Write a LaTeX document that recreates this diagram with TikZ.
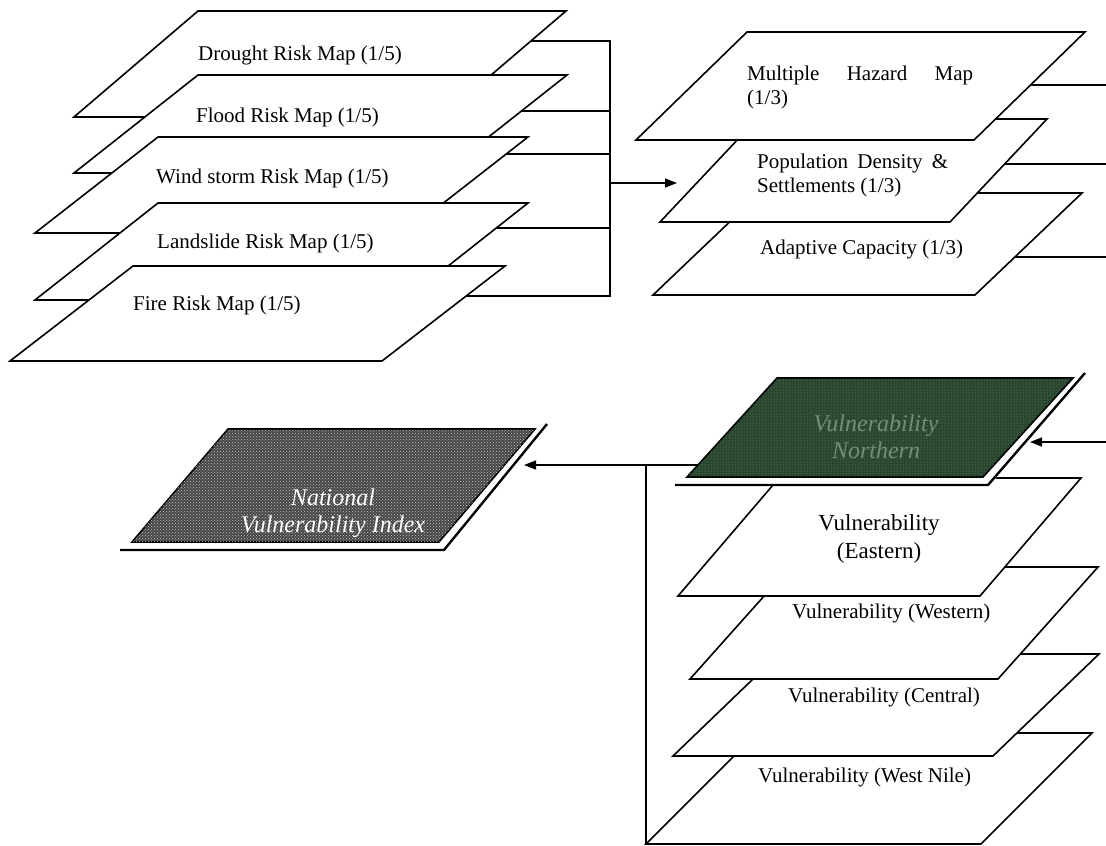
\documentclass[tikz,border=0pt]{standalone}
\usepackage{fontspec}
\setmainfont{Liberation Serif}
\usetikzlibrary{calc,arrows.meta,patterns}
\definecolor{grn}{RGB}{40,70,46}
\definecolor{grndot}{RGB}{120,145,120}
\definecolor{grntext}{RGB}{120,140,122}
\definecolor{nvigray}{RGB}{70,70,70}
\definecolor{nvidot}{RGB}{200,200,200}
% layer: [style]{name}{TL x}{TL y}{width}{height}{skew}
\newcommand{\mylayer}[7][]{%
  \coordinate (#2-tl) at (#3,#4);
  \coordinate (#2-tr) at ({#3+#5},#4);
  \coordinate (#2-br) at ({#3+#5-#7},{#4+#6});
  \coordinate (#2-bl) at ({#3-#7},{#4+#6});
  \path[layerbox,#1] (#2-tl) -- (#2-tr) -- (#2-br) -- (#2-bl) -- cycle;
}
\newcommand{\shlayer}[7][]{%
  \coordinate (#2-tl) at (#3,#4);
  \coordinate (#2-tr) at ({#3+#5},#4);
  \coordinate (#2-br) at ({#3+#5-#7},{#4+#6});
  \coordinate (#2-bl) at ({#3-#7},{#4+#6});
  \fill[white] ($(#2-tl)+(6,8)$) -- ($(#2-tr)+(10,-4)$) -- ($(#2-br)+(6,9)$) -- ($(#2-bl)+(-12,9)$) -- cycle;
  \draw[shadowline] ($(#2-tr)+(12,-5)$) -- ($(#2-br)+(5,8)$) -- ($(#2-bl)+(-12,8)$);
  \path[layerbox,#1] (#2-tl) -- (#2-tr) -- (#2-br) -- (#2-bl) -- cycle;
}
\begin{document}
\begin{tikzpicture}[x=1pt,y=-1pt,
  layerbox/.style={draw=black,line width=1.6pt,fill=white,line join=miter},
  conn/.style={draw=black,line width=1.5pt},
  arr/.style={conn,-{Triangle[length=12pt,width=9pt]}},
  shadowline/.style={draw=black,line width=2.4pt},
  lbl/.style={font=\fontsize{21}{24}\selectfont,inner sep=0pt,anchor=west},
  big/.style={font=\fontsize{23}{28}\selectfont,inner sep=0pt,align=center},
  ital/.style={font=\fontsize{24}{27}\selectfont\itshape,inner sep=0pt,align=center},
]
\useasboundingbox (0,0) rectangle (1106,846);

% ---- left stack: hazard risk maps ----
\mylayer{dr}{198}{11}{368}{106}{124}
\mylayer{fl}{198}{75}{369}{98}{124}
\mylayer{wi}{158}{137}{370}{96}{123}
\mylayer{la}{158}{203}{370}{97}{123}
\mylayer{fi}{133}{266}{372}{95}{123}
\node[lbl] (t-dr) at (198,55) {Drought Risk Map (1/5)};
\node[lbl] (t-fl) at (196,117) {Flood Risk Map (1/5)};
\node[lbl] (t-wi) at (156,178) {Wind storm Risk Map (1/5)};
\node[lbl] (t-la) at (157,243) {Landslide Risk Map (1/5)};
\node[lbl] (t-fi) at (133,305) {Fire Risk Map (1/5)};

% ---- right top stack ----
\mylayer{ad}{760}{193}{322}{102}{107}
\mylayer{po}{757}{119}{290}{103}{97}
\mylayer{mh}{747}{32}{338}{108}{111}
\node[lbl,align=left] (t-mh) at (747,87) {\makebox[226pt][s]{Multiple\hfill Hazard\hfill Map}\\(1/3)};
\node[lbl,align=left] (t-po) at (757,175) {\makebox[191pt][s]{Population\hfill Density\hfill\&}\\Settlements (1/3)};
\node[lbl] (t-ad) at (760,249) {Adaptive Capacity (1/3)};

% ---- connectors top ----
\coordinate (busL) at (610,0);
\coordinate (edgeR) at (1106,0);
\coordinate (dr-c) at ($(dr-tr)!0.283!(dr-br)$);
\coordinate (fl-c) at ($(fl-tr)!0.367!(fl-br)$);
\coordinate (wi-c) at ($(wi-tr)!0.177!(wi-br)$);
\coordinate (la-c) at ($(la-tr)!0.258!(la-br)$);
\coordinate (fi-c) at ($(fi-tr)!0.316!(fi-br)$);
\draw[conn] (dr-c) -- (dr-c -| busL) -- (fi-c -| busL) -- (fi-c);
\foreach \n in {fl,wi,la} \draw[conn] (\n-c) -- (\n-c -| busL);
\coordinate (arrT) at (677,183);
\draw[arr] (arrT -| busL) -- (arrT);
\coordinate (mh-c) at ($(mh-tr)!0.491!(mh-br)$);
\coordinate (po-c) at ($(po-tr)!0.437!(po-br)$);
\coordinate (ad-c) at ($(ad-tr)!0.627!(ad-br)$);
\foreach \n in {mh,po,ad} \draw[conn] (\n-c) -- (\n-c -| edgeR);

% ---- bottom right stack: regional vulnerability ----
\mylayer{wn}{757}{733}{335}{111}{111}
\mylayer{ce}{779}{654}{320}{102}{106}
\mylayer{we}{790}{567}{308}{112}{100}
\mylayer{ea}{779}{478}{302}{118}{101}
\node[big] (t-ea) at (879,539) {Vulnerability\\(Eastern)};
\node[lbl] (t-we) at (792,613) {Vulnerability (Western)};
\node[lbl] (t-ce) at (788,697) {Vulnerability (Central)};
\node[lbl] (t-wn) at (758,777) {Vulnerability (West Nile)};

\shlayer[fill=grn,postaction={pattern=dots,pattern color=grndot}]{gr}{777}{378}{296}{99}{90}
\node[ital,text=grntext] (t-gr) at (876,437) {Vulnerability\\Northern};

% ---- national index ----
\shlayer[fill=nvigray,postaction={pattern=crosshatch dots,pattern color=nvidot}]{nv}{228}{429}{307}{113}{96}
\node[ital,text=white] (t-nv) at (333,513) {National\\Vulnerability Index};

% ---- connectors bottom ----
\coordinate (gr-c) at ($(gr-tl)!0.879!(gr-bl)$);
\coordinate (nv-tip) at (524,0);
\draw[arr] (gr-c) -- (gr-c -| nv-tip);
\draw[conn] (gr-c -| wn-bl) -- (wn-bl);
\coordinate (gr-in) at (1030,442);
\draw[arr] (gr-in -| edgeR) -- (gr-in);
\end{tikzpicture}
\end{document}
